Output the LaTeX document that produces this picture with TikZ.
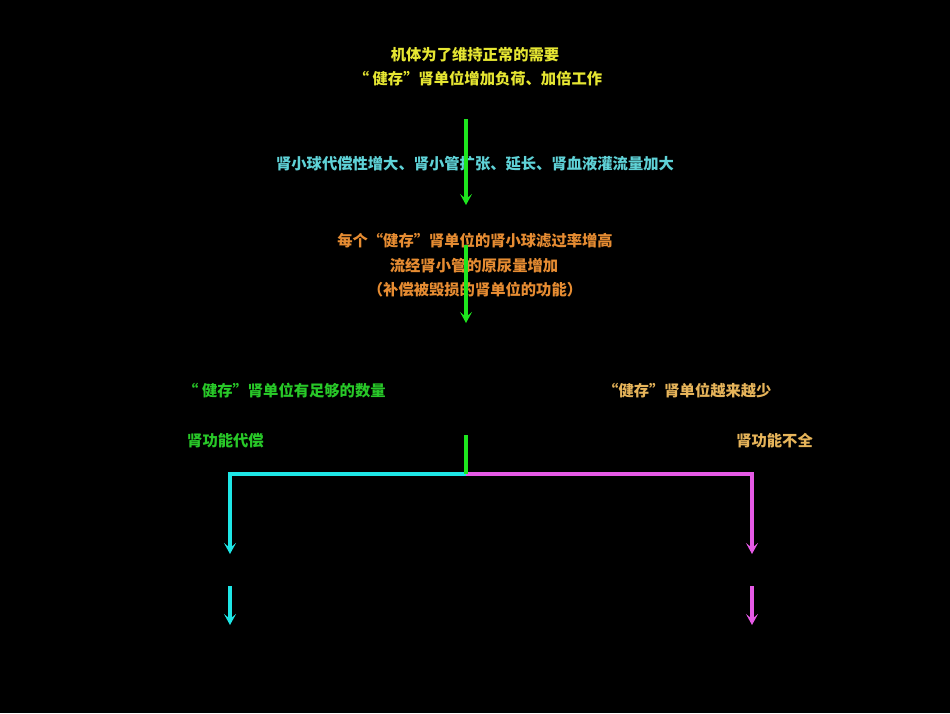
\documentclass[tikz,border=0pt]{standalone}
\usepackage{fontspec}
\usepackage{tikz}
\usetikzlibrary{arrows.meta}
\newfontfamily\cjk{Noto Sans CJK SC}
\definecolor{txtyellow}{RGB}{230,230,50}
\definecolor{txtcyan}{RGB}{95,210,215}
\definecolor{txtorange}{RGB}{230,140,50}
\definecolor{txtgreen}{RGB}{40,200,40}
\definecolor{txtgold}{RGB}{230,180,90}
\definecolor{lngreen}{RGB}{30,230,30}
\definecolor{lncyan}{RGB}{30,230,230}
\definecolor{lnpink}{RGB}{230,90,230}
\tikzset{
	txt/.style={inner sep=0pt, font=\cjk\bfseries\fontsize{15.3}{18}\selectfont},
	flow/.style={line width=4pt, -{Stealth[length=11pt,width=12pt,inset=5pt]}},
	branch/.style={line width=4pt}
}

\begin{document}
\begin{tikzpicture}[x=1pt,y=1pt]
	\fill[black] (0,0) rectangle (950,-713);
	\useasboundingbox (0,0) rectangle (950,-713);
	% top block
	\node[txt, text=txtyellow] (need) at (475,-55) {机体为了维持正常的需要};
	\node[txt, text=txtyellow] (load) at (478,-79) {“ 健存”肾单位增加负荷、加倍工作};
	\node[txt, text=txtcyan] (grow) at (475,-164) {肾小球代偿性增大、肾小管扩张、延长、肾血液灌流量加大};
	\node[txt, text=txtorange] (gfr) at (475,-241) {每个“健存”肾单位的肾小球滤过率增高};
	\node[txt, text=txtorange] (urine) at (474,-266) {流经肾小管的原尿量增加};
	\node[txt, text=txtorange] (comp) at (475,-290) {（补偿被毁损的肾单位的功能）};
	% two outcomes
	\node[txt, text=txtgreen, anchor=west] (enough) at (183,-391) {“ 健存”肾单位有足够的数量};
	\node[txt, text=txtgreen, anchor=west] (okfunc) at (187,-441) {肾功能代偿};
	\node[txt, text=txtgold, anchor=west] (fewer) at (603,-391) {“健存”肾单位越来越少};
	\node[txt, text=txtgold, anchor=east] (fail) at (813,-441) {肾功能不全};
	% connector points
	\coordinate (a1) at (466,-119);
	\coordinate (a2) at (466,-205);
	\coordinate (b1) at (466,-245);
	\coordinate (b2) at (466,-323);
	\coordinate (top) at (466,-435);
	\coordinate (fork) at (466,-474);
	\coordinate (lc) at (230,-474);
	\coordinate (rc) at (752,-474);
	\coordinate (l1) at (230,-554);
	\coordinate (r1) at (752,-554);
	\coordinate (l2) at (230,-586);
	\coordinate (l3) at (230,-625);
	\coordinate (r2) at (752,-586);
	\coordinate (r3) at (752,-625);
	\draw[flow, lngreen] (a1) -- (a2);
	\draw[flow, lngreen] (b1) -- (b2);
	\draw[flow, lncyan] (fork) -- (lc) -- (l1);
	\draw[flow, lnpink] (fork) -- (rc) -- (r1);
	\draw[branch, lngreen] (top) -- (fork);
	\draw[flow, lncyan] (l2) -- (l3);
	\draw[flow, lnpink] (r2) -- (r3);
\end{tikzpicture}
\end{document}
